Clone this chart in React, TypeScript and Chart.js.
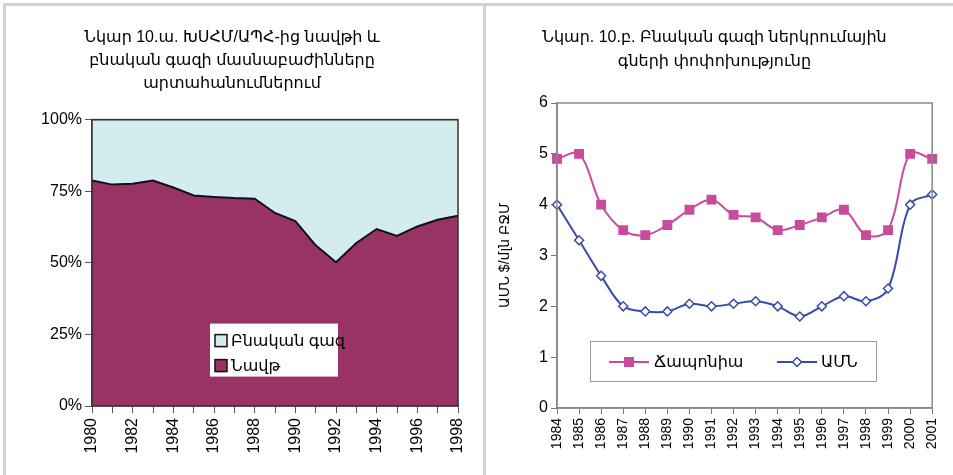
import React, { useEffect, useRef } from 'react';
import { Chart, registerables } from 'chart.js';
Chart.register(...registerables);

const FONT = "Arial, 'Liberation Sans', 'DejaVu Sans', 'Noto Sans', sans-serif";

// Left chart: shares of oil and natural gas in exports
const shareTitle = ['Նկար 10.ա. ԽՍՀՄ/ԱՊՀ-ից նավթի և', 'բնական գազի մասնաբաժինները', 'արտահանումներում'];
const shareYears = ['1980', '1981', '1982', '1983', '1984', '1985', '1986', '1987', '1988', '1989', '1990', '1991', '1992', '1993', '1994', '1995', '1996', '1997', '1998'];
const oilShare = [78.7, 77.3, 77.6, 78.7, 76.3, 73.5, 73.0, 72.6, 72.4, 67.4, 64.6, 56.1, 50.2, 56.9, 61.8, 59.4, 62.7, 65.0, 66.4];
const gasShare = [21.3, 22.7, 22.4, 21.3, 23.7, 26.5, 27.0, 27.4, 27.6, 32.6, 35.4, 43.9, 49.8, 43.1, 38.2, 40.6, 37.3, 35.0, 33.6];
const shareTicks = [0, 25, 50, 75, 100];
const oilLabel = 'Նավթ';
const gasLabel = 'Բնական գազ';

// Right chart: natural gas import prices
const priceTitle = ['Նկար. 10.բ. Բնական գազի ներկրումային', 'գների փոփոխությունը'];
const priceYears = ['1984', '1985', '1986', '1987', '1988', '1989', '1990', '1991', '1992', '1993', '1994', '1995', '1996', '1997', '1998', '1999', '2000', '2001'];
const japanPrice = [4.9, 5.0, 4.0, 3.5, 3.4, 3.6, 3.9, 4.1, 3.8, 3.75, 3.5, 3.6, 3.75, 3.9, 3.4, 3.5, 5.0, 4.9];
const usaPrice = [4.0, 3.3, 2.6, 2.0, 1.9, 1.9, 2.05, 2.0, 2.05, 2.1, 2.0, 1.8, 2.0, 2.2, 2.1, 2.35, 4.0, 4.2];
const japanLabel = 'Ճապոնիա';
const usaLabel = 'ԱՄՆ';
const priceAxisTitle = 'ԱՄՆ $/մլն ԲՋՄ';

const OIL = '#993366';
const GAS = '#d3ecf0';
const JAPAN = '#c94b9e';
const USA = '#3a4aa8';
const TEXT = '#000';

function ShareChart() {
  const ref = useRef<HTMLCanvasElement>(null);
  useEffect(() => {
    const legendPlugin = {
      id: 'shareLegend',
      afterDraw(chart: any) {
        const { ctx, chartArea } = chart;
        ctx.save();
        ctx.strokeStyle = '#333';
        ctx.lineWidth = 1.5;
        ctx.strokeRect(chartArea.left, chartArea.top, chartArea.right - chartArea.left, chartArea.bottom - chartArea.top);
        const bx = chartArea.left + 118;
        const by = chartArea.top + 204;
        ctx.fillStyle = '#ffffff';
        ctx.fillRect(bx, by, 128, 53);
        const items = [
          { label: chart.data.datasets[1].label, color: chart.data.datasets[1].backgroundColor },
          { label: chart.data.datasets[0].label, color: chart.data.datasets[0].backgroundColor },
        ];
        ctx.font = `16px ${FONT}`;
        ctx.textBaseline = 'middle';
        items.forEach((it, i) => {
          const cy = by + 17 + i * 25;
          ctx.fillStyle = it.color;
          ctx.fillRect(bx + 5, cy - 6, 12, 12);
          ctx.strokeStyle = '#111';
          ctx.lineWidth = 1.5;
          ctx.strokeRect(bx + 5, cy - 6, 12, 12);
          ctx.fillStyle = TEXT;
          ctx.fillText(it.label, bx + 21, cy + 1);
        });
        ctx.restore();
      },
    };
    const chart = new Chart(ref.current!, {
      type: 'line',
      data: {
        labels: shareYears,
        datasets: [
          { label: oilLabel, data: oilShare, backgroundColor: OIL, borderColor: '#111', borderWidth: 2, fill: 'origin', pointRadius: 0, tension: 0 },
          { label: gasLabel, data: gasShare, backgroundColor: GAS, borderColor: '#111', borderWidth: 1.5, fill: '-1', pointRadius: 0, tension: 0 },
        ],
      },
      options: {
        animation: false,
        responsive: false,
        events: [],
        layout: { padding: { left: 0, right: 26, top: 0, bottom: 0 } },
        plugins: {
          legend: { display: false },
          tooltip: { enabled: false },
          title: {
            display: true,
            text: shareTitle,
            color: TEXT,
            font: { family: FONT, size: 16, weight: 'normal', lineHeight: 1.45 },
            padding: { top: 20, bottom: 24 },
          },
        },
        scales: {
          x: {
            offset: false,
            grid: { display: true, drawOnChartArea: false, drawTicks: true, tickLength: 7, color: '#555' },
            border: { display: true, color: '#555', width: 1.5 },
            ticks: {
              autoSkip: false,
              maxRotation: 90,
              minRotation: 90,
              padding: 5,
              color: TEXT,
              font: { family: FONT, size: 16 },
              callback: (_v: any, i: number) => (i % 2 === 0 ? shareYears[i] : ''),
            },
            afterFit: (s: any) => { s.height = 69; },
          },
          y: {
            stacked: true,
            min: 0,
            max: 100,
            afterBuildTicks: (s: any) => { s.ticks = shareTicks.map((v) => ({ value: v })); },
            grid: { display: true, drawOnChartArea: false, drawTicks: true, tickLength: 7, color: '#555' },
            border: { display: true, color: '#555', width: 1.5 },
            ticks: {
              padding: 3,
              color: TEXT,
              font: { family: FONT, size: 16 },
              callback: (v: any) => `${v}%`,
            },
            afterFit: (s: any) => { s.width = 86; },
          },
        },
      } as any,
      plugins: [legendPlugin],
    });
    return () => chart.destroy();
  }, []);
  return <canvas ref={ref} width={478} height={469} />;
}

function PriceChart() {
  const ref = useRef<HTMLCanvasElement>(null);
  useEffect(() => {
    const legendPlugin = {
      id: 'priceLegend',
      afterDraw(chart: any) {
        const { ctx, chartArea } = chart;
        ctx.save();
        ctx.strokeStyle = '#8a8a8a';
        ctx.lineWidth = 1.5;
        ctx.strokeRect(chartArea.left, chartArea.top, chartArea.right - chartArea.left, chartArea.bottom - chartArea.top);
        const bx = chartArea.left + 33;
        const by = chartArea.top + 238;
        ctx.fillStyle = '#ffffff';
        ctx.fillRect(bx, by, 286, 40);
        ctx.strokeStyle = '#9a9a9a';
        ctx.lineWidth = 1;
        ctx.strokeRect(bx + 0.5, by + 0.5, 286, 40);
        const cy = by + 21;
        const items = [
          { ds: chart.data.datasets[0], x: bx + 19, tx: bx + 64 },
          { ds: chart.data.datasets[1], x: bx + 187, tx: bx + 231 },
        ];
        items.forEach((it) => {
          const ds = it.ds;
          ctx.strokeStyle = ds.borderColor;
          ctx.lineWidth = 2;
          ctx.beginPath();
          ctx.moveTo(it.x, cy);
          ctx.lineTo(it.x + 40, cy);
          ctx.stroke();
          const mx = it.x + 20;
          if (ds.pointStyle === 'rect') {
            ctx.fillStyle = ds.pointBackgroundColor;
            ctx.fillRect(mx - 5, cy - 5, 10, 10);
          } else {
            ctx.fillStyle = ds.pointBackgroundColor;
            ctx.beginPath();
            ctx.moveTo(mx, cy - 4.5);
            ctx.lineTo(mx + 4.5, cy);
            ctx.lineTo(mx, cy + 4.5);
            ctx.lineTo(mx - 4.5, cy);
            ctx.closePath();
            ctx.fill();
            ctx.strokeStyle = ds.pointBorderColor;
            ctx.lineWidth = 1.5;
            ctx.stroke();
          }
          ctx.fillStyle = TEXT;
          ctx.font = `16px ${FONT}`;
          ctx.textBaseline = 'middle';
          ctx.fillText(ds.label, it.tx, cy + 1);
        });
        ctx.restore();
      },
    };
    const chart = new Chart(ref.current!, {
      type: 'line',
      data: {
        labels: priceYears,
        datasets: [
          {
            label: japanLabel, data: japanPrice, borderColor: JAPAN, borderWidth: 2, tension: 0.35,
            pointStyle: 'rect', pointRadius: 7, pointBackgroundColor: JAPAN, pointBorderColor: JAPAN, pointBorderWidth: 0, fill: false,
          },
          {
            label: usaLabel, data: usaPrice, borderColor: USA, borderWidth: 2, tension: 0.35,
            pointStyle: 'rectRot', pointRadius: 4.5, pointBackgroundColor: '#ffffff', pointBorderColor: USA, pointBorderWidth: 1.5, fill: false,
          },
        ],
      },
      options: {
        animation: false,
        responsive: false,
        events: [],
        layout: { padding: { left: 0, right: 12, top: 0, bottom: 0 } },
        plugins: {
          legend: { display: false },
          tooltip: { enabled: false },
          title: {
            display: true,
            text: priceTitle,
            color: TEXT,
            font: { family: FONT, size: 16, weight: 'normal', lineHeight: 1.5 },
            padding: { top: 20, bottom: 29 },
          },
        },
        scales: {
          x: {
            offset: false,
            grid: { display: true, drawOnChartArea: false, drawTicks: true, tickLength: 6, color: '#777' },
            border: { display: true, color: '#777', width: 1.5 },
            ticks: {
              autoSkip: false,
              maxRotation: 90,
              minRotation: 90,
              padding: 4,
              color: TEXT,
              font: { family: FONT, size: 14 },
            },
            afterFit: (s: any) => { s.height = 67; },
          },
          y: {
            min: 0,
            max: 6,
            ticks: { stepSize: 1, padding: 3, color: TEXT, font: { family: FONT, size: 16 } },
            grid: { display: true, drawOnChartArea: false, drawTicks: true, tickLength: 6, color: '#777' },
            border: { display: true, color: '#777', width: 1.5 },
            title: {
              display: true,
              text: priceAxisTitle,
              color: TEXT,
              font: { family: FONT, size: 14 },
              padding: { top: 9, bottom: 0 },
            },
            afterFit: (s: any) => { s.width = 69; },
          },
        },
      } as any,
      plugins: [legendPlugin],
    });
    return () => chart.destroy();
  }, []);
  return <canvas ref={ref} width={465} height={469} />;
}

export default function App() {
  return (
    <div style={{ position: 'absolute', left: 0, top: 0, width: 953, height: 475, background: '#fff', overflow: 'hidden' }}>
      <div style={{ position: 'absolute', left: 3, top: 3, width: 950, height: 472, borderTop: '3px solid #d2d2d2', borderLeft: '3px solid #d2d2d2' }} />
      <div style={{ position: 'absolute', left: 483, top: 3, width: 3, height: 472, background: '#d2d2d2' }} />
      <div style={{ position: 'absolute', left: 6, top: 6, width: 477, height: 469 }}>
        <ShareChart />
      </div>
      <div style={{ position: 'absolute', left: 488, top: 6, width: 465, height: 469 }}>
        <PriceChart />
      </div>
    </div>
  );
}
